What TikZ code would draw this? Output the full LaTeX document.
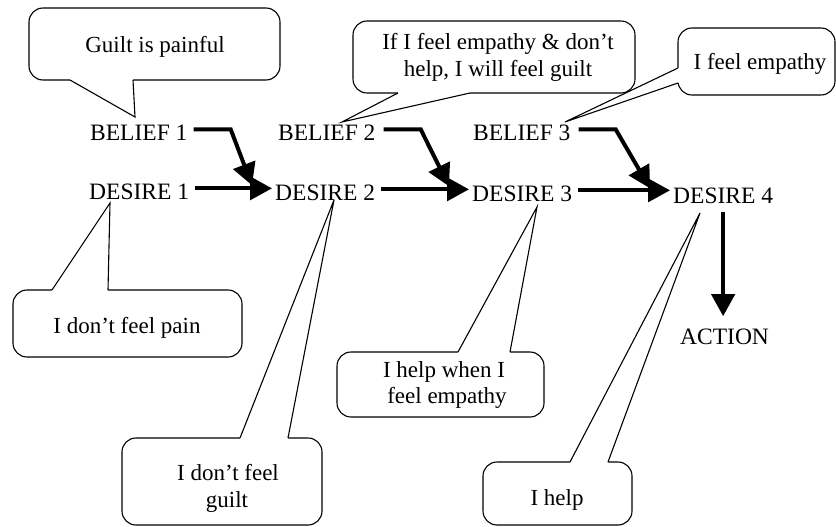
\documentclass[tikz,border=0pt]{standalone}
\usepackage{fontspec}
\setmainfont{Liberation Serif}
\usetikzlibrary{arrows.meta,calc}

% speech-balloon pointer: base point, tip, base point, shift into the balloon
\newcommand\calloutwedge[4]{%
  \fill[white] ($(#1)+(#4)$) -- (#1) -- (#2) -- (#3) -- ($(#3)+(#4)$) -- cycle;
  \draw[wedge line] (#1) -- (#2) -- (#3);
}

\begin{document}
\begin{tikzpicture}[x=1pt,y=-1pt,
  rowtext/.style={inner sep=0pt, anchor=base west, font=\fontsize{23.5}{27}\selectfont},
  saying/.style={inner sep=0pt, anchor=base, font=\fontsize{23}{27}\selectfont},
  balloon/.style={draw=black, line width=1.1pt, fill=white, rounded corners=14pt},
  wedge line/.style={draw=black, line width=1.1pt, line join=miter},
  flow/.style={line width=4pt, -{Triangle[length=22pt,width=23pt]}},
]
\useasboundingbox (0,0) rectangle (836,527);

% ---- speech balloons ----
\draw[balloon] (29,8) rectangle (280,80);
\calloutwedge{70,80}{135,117}{133,80}{0,-3}
\node[saying] (c1) at (155,53) {Guilt is painful};

\draw[balloon] (353,21) rectangle (635,93);
\calloutwedge{398,93}{342,122}{470,93}{0,-3}
\node[saying] (c2a) at (498,50) {If I feel empathy \& don’t};
\node[saying] (c2b) at (498,77) {help, I will feel guilt};

\draw[balloon] (678,28) rectangle (835,95);
\calloutwedge{678,68}{565,122}{678,83}{3,0}
\node[saying] (c3) at (760,70) {I feel empathy};

\draw[balloon] (13,290) rectangle (242,357);
\calloutwedge{52,290}{110,203}{108,290}{0,3}
\node[saying] (c4) at (127,333) {I don’t feel pain};

\draw[balloon] (122,438) rectangle (322,525);
\calloutwedge{240,438}{334,200}{288,438}{0,3}
\node[saying] (c5a) at (228,480) {I don’t feel};
\node[saying] (c5b) at (227,507) {guilt};

\draw[balloon] (337,352) rectangle (544,417);
\calloutwedge{458,352}{537,207}{510,352}{0,3}
\node[saying] (c6a) at (444,377) {I help when I};
\node[saying] (c6b) at (447,403) {feel empathy};

\draw[balloon] (483,462) rectangle (632,525);
\calloutwedge{570,462}{700,213}{608,462}{0,3}
\node[saying] (c7) at (557,505) {I help};

% ---- beliefs, desires and the action ----
\node[rowtext] (b1) at (90,140) {BELIEF 1};
\node[rowtext] (d1) at (89,199) {DESIRE 1};
\node[rowtext] (b2) at (278,140) {BELIEF 2};
\node[rowtext] (d2) at (275,200) {DESIRE 2};
\node[rowtext] (b3) at (473,140) {BELIEF 3};
\node[rowtext] (d3) at (472,201) {DESIRE 3};
\node[rowtext] (d4) at (673,203) {DESIRE 4};
\node[rowtext] (act) at (680,344) {ACTION};

% ---- arrows ----
\draw[flow] ($(b1.east)+(6,-3)$) -- ++(37,0) -- ($(d2.west)+(-23,-7)$);
\draw[flow] ($(b2.east)+(8,-3)$) -- ++(37,0) -- ($(d3.west)+(-23,-7)$);
\draw[flow] ($(b3.east)+(8,-3)$) -- ++(37,0) -- ($(d4.west)+(-23,-7)$);

\path ($(d2.west)+(-3,0)$) coordinate (e2);
\path ($(d3.west)+(-3,0)$) coordinate (e3);
\path ($(d4.west)+(-3,0)$) coordinate (e4);
\draw[flow] ($(d1.east)+(6,-3)$) coordinate (s1) -- (s1 -| e2);
\draw[flow] ($(d2.east)+(6,-3)$) coordinate (s2) -- (s2 -| e3);
\draw[flow] ($(d3.east)+(6,-3)$) coordinate (s3) -- (s3 -| e4);

\path ($(act.north)+(0,-12)$) coordinate (ea);
\draw[flow] ($(d4.south)+(0,9)$) coordinate (s4) -- (s4 |- ea);
\end{tikzpicture}
\end{document}
